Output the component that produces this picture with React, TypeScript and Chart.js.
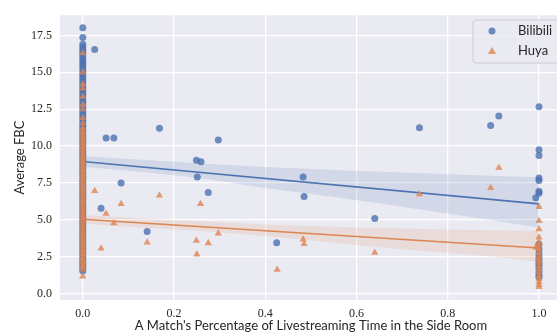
import React, { useEffect, useRef } from "react";
import { Chart, registerables } from "chart.js";
Chart.register(...registerables);

// ---- data ----
const xTickValues = [0, 0.2, 0.4, 0.6, 0.8, 1.0];
const yTickValues = [0, 2.5, 5, 7.5, 10, 12.5, 15, 17.5];

const seriesNames = ["Bilibili", "Huya"];

// Bilibili points at x = 0
const biliZeroY = [
  1.52, 1.68, 1.85, 2.0, 2.18, 2.35, 2.5, 2.7, 2.88, 3.05, 3.22, 3.4, 3.6, 3.78, 3.95, 4.12, 4.3, 4.5,
  4.68, 4.85, 5.02, 5.2, 5.4, 5.58, 5.75, 5.92, 6.1, 6.3, 6.48, 6.65, 6.82, 7.0, 7.2, 7.38, 7.55, 7.72,
  7.9, 8.1, 8.28, 8.45, 8.62, 8.8, 9.0, 9.18, 9.35, 9.52, 9.7, 9.9, 10.08, 10.25, 10.42, 10.6, 10.8,
  10.98, 11.15, 11.32, 11.5, 11.7, 11.88, 12.05, 12.22, 12.4, 12.6, 12.78, 12.95, 13.12, 13.3, 13.5,
  13.68, 13.85, 14.02, 14.2, 14.4, 14.58, 14.75, 14.92, 15.1, 15.3, 15.48, 15.65, 15.82, 16.0, 16.2,
  16.38, 16.55, 16.72, 16.9, 17.35, 18.02,
];
// Bilibili points between 0 and 1
const biliMidX = [0.026, 0.051, 0.068, 0.084, 0.04, 0.141, 0.168, 0.249, 0.259, 0.251, 0.275, 0.297, 0.425, 0.483, 0.485, 0.64, 0.738, 0.894, 0.912, 0.993];
const biliMidY = [16.54, 10.54, 10.54, 7.5, 5.78, 4.2, 11.2, 9.04, 8.93, 7.9, 6.85, 10.41, 3.45, 7.9, 6.58, 5.08, 11.24, 11.39, 12.04, 6.49];
// Bilibili points at x = 1
const biliOneY = [12.67, 9.74, 9.36, 7.83, 7.66, 6.94, 6.8, 3.36, 3.0, 2.69, 2.45, 2.24, 2.05, 1.9, 1.7, 1.45, 1.25, 1.11];

// Huya points at x = 0
const huyaZeroY = [
  1.16, 1.62, 1.8, 1.97, 2.15, 2.32, 2.5, 2.68, 2.85, 3.02, 3.2, 3.38, 3.55, 3.72, 3.9, 4.08, 4.25,
  4.42, 4.6, 4.78, 4.95, 5.12, 5.3, 5.48, 5.65, 5.82, 6.0, 6.18, 6.35, 6.52, 6.7, 6.88, 7.05, 7.22,
  7.4, 7.58, 7.75, 7.92, 8.1, 8.28, 8.45, 8.62, 8.8, 8.98, 9.15, 9.32, 9.5, 9.68, 9.85, 10.02, 10.2,
  10.38, 10.55, 10.72, 10.9, 11.05, 11.25, 11.55, 11.9, 12.5, 12.8, 13.35, 13.9, 14.2, 15.0, 16.3,
];
const huyaMidX = [0.026, 0.051, 0.068, 0.04, 0.084, 0.141, 0.168, 0.249, 0.25, 0.258, 0.275, 0.297, 0.426, 0.483, 0.485, 0.64, 0.738, 0.894, 0.912, 0.993];
const huyaMidY = [6.96, 5.41, 4.77, 3.06, 6.08, 3.47, 6.65, 3.58, 2.66, 6.08, 3.42, 4.07, 1.61, 3.67, 3.36, 2.77, 6.74, 7.16, 8.53, 3.13];
const huyaOneY = [5.88, 4.92, 4.36, 3.8, 3.47, 3.3, 3.0, 2.75, 2.5, 2.3, 2.1, 1.85, 1.65, 1.45, 1.2, 1.0, 0.8, 0.6, 0.44];

// regression lines
const regX = [0, 1];
const biliFit = [8.95, 6.08];
const huyaFit = [5.04, 3.09];

// confidence bands
const bandX = [0, 0.1, 0.25, 0.4, 0.55, 0.7, 0.85, 1.0];
const biliUpper = [9.33, 9.12, 8.85, 8.57, 8.38, 8.2, 8.03, 7.88];
const biliLower = [8.6, 8.33, 7.85, 7.15, 6.55, 5.88, 5.18, 4.47];
const huyaUpper = [5.33, 5.16, 4.9, 4.68, 4.52, 4.4, 4.3, 4.25];
const huyaLower = [4.74, 4.52, 4.25, 3.9, 3.45, 3.0, 2.62, 2.17];

// ---- styling ----
const BLUE = "#4C72B0";
const ORANGE = "#DD8452";
const BLUE_PT = "rgba(76,114,176,0.8)";
const ORANGE_PT = "rgba(221,132,82,0.8)";
const BLUE_BAND = "rgba(76,114,176,0.15)";
const ORANGE_BAND = "rgba(221,132,82,0.15)";
const TEXT = "#262626";
const SANS = "Lato";
const SERIF = "'Liberation Serif'";

function pts(xs: number[], ys: number[]) {
  return xs.map((x, i) => ({ x, y: ys[i] }));
}
function constX(x: number, ys: number[]) {
  return ys.map((y) => ({ x, y }));
}

const bgPlugin = {
  id: "bg",
  beforeDraw(chart: any) {
    const { ctx, chartArea } = chart;
    ctx.save();
    ctx.fillStyle = "#EAEAF2";
    ctx.fillRect(chartArea.left, chartArea.top, chartArea.right - chartArea.left, chartArea.bottom - chartArea.top);
    ctx.restore();
  },
};

const legendPlugin = {
  id: "customLegend",
  afterDraw(chart: any) {
    const { ctx } = chart;
    ctx.save();
    const x = 473, y = 20, w = 88, h = 43, r = 3;
    ctx.beginPath();
    ctx.moveTo(x + r, y);
    ctx.lineTo(x + w - r, y);
    ctx.arcTo(x + w, y, x + w, y + r, r);
    ctx.lineTo(x + w, y + h - r);
    ctx.arcTo(x + w, y + h, x + w - r, y + h, r);
    ctx.lineTo(x + r, y + h);
    ctx.arcTo(x, y + h, x, y + h - r, r);
    ctx.lineTo(x, y + r);
    ctx.arcTo(x, y, x + r, y, r);
    ctx.closePath();
    ctx.fillStyle = "rgba(234,234,242,0.8)";
    ctx.fill();
    ctx.strokeStyle = "#cccccc";
    ctx.lineWidth = 1;
    ctx.stroke();

    // markers
    ctx.fillStyle = BLUE_PT;
    ctx.beginPath();
    ctx.arc(492, 31, 3.5, 0, Math.PI * 2);
    ctx.fill();
    ctx.fillStyle = ORANGE_PT;
    ctx.beginPath();
    const s = 4;
    ctx.moveTo(492, 51 - s);
    ctx.lineTo(492 + s, 51 + s * 0.75);
    ctx.lineTo(492 - s, 51 + s * 0.75);
    ctx.closePath();
    ctx.fill();

    ctx.fillStyle = TEXT;
    ctx.font = `13px ${SANS}`;
    ctx.textAlign = "left";
    ctx.textBaseline = "middle";
    ctx.fillText(seriesNames[0], 518, 31);
    ctx.fillText(seriesNames[1], 518, 51);
    ctx.restore();
  },
};

export default function App() {
  const ref = useRef<HTMLCanvasElement>(null);
  useEffect(() => {
    document.body.style.margin = "0";
    const canvas = ref.current!;
    const chart = new Chart(canvas, {
      type: "scatter",
      data: {
        datasets: [
          {
            type: "scatter",
            label: seriesNames[0],
            data: [...constX(0, biliZeroY), ...pts(biliMidX, biliMidY), ...constX(1, biliOneY)],
            backgroundColor: BLUE_PT,
            borderWidth: 0,
            pointRadius: 3.5,
            pointStyle: "circle",
            order: 5,
          },
          {
            type: "line",
            label: "bili upper",
            data: pts(bandX, biliUpper),
            borderWidth: 0,
            pointRadius: 0,
            cubicInterpolationMode: "monotone",
            fill: false,
            order: 4,
          },
          {
            type: "line",
            label: "bili lower",
            data: pts(bandX, biliLower),
            borderWidth: 0,
            pointRadius: 0,
            cubicInterpolationMode: "monotone",
            backgroundColor: BLUE_BAND,
            fill: "-1",
            order: 4,
          },
          {
            type: "line",
            label: "bili fit",
            data: pts(regX, biliFit),
            borderColor: BLUE,
            borderWidth: 1.6,
            pointRadius: 0,
            fill: false,
            order: 3,
          },
          {
            type: "scatter",
            label: seriesNames[1],
            data: [...constX(0, huyaZeroY), ...pts(huyaMidX, huyaMidY), ...constX(1, huyaOneY)],
            backgroundColor: ORANGE_PT,
            borderWidth: 0,
            pointRadius: 4.2,
            pointStyle: "triangle",
            order: 2,
          },
          {
            type: "line",
            label: "huya upper",
            data: pts(bandX, huyaUpper),
            borderWidth: 0,
            pointRadius: 0,
            cubicInterpolationMode: "monotone",
            fill: false,
            order: 1,
          },
          {
            type: "line",
            label: "huya lower",
            data: pts(bandX, huyaLower),
            borderWidth: 0,
            pointRadius: 0,
            cubicInterpolationMode: "monotone",
            backgroundColor: ORANGE_BAND,
            fill: "-1",
            order: 1,
          },
          {
            type: "line",
            label: "huya fit",
            data: pts(regX, huyaFit),
            borderColor: ORANGE,
            borderWidth: 1.6,
            pointRadius: 0,
            fill: false,
            order: 0,
          },
        ] as any,
      },
      options: {
        responsive: false,
        animation: false,
        devicePixelRatio: 1,
        layout: { padding: { top: 13, right: 1, left: 0, bottom: 0 } },
        plugins: { legend: { display: false }, tooltip: { enabled: false } },
        scales: {
          x: {
            type: "linear",
            min: -0.05,
            max: 1.05,
            afterBuildTicks: (scale: any) => {
              scale.ticks = xTickValues.map((v) => ({ value: v }));
            },
            afterFit: (scale: any) => {
              scale.height = 45;
            },
            ticks: {
              callback: (v: any) => Number(v).toFixed(1),
              font: { family: SERIF, size: 12 },
              color: TEXT,
              padding: 7,
              maxRotation: 0,
            },
            grid: { color: "#ffffff", lineWidth: 1.3, drawTicks: false },
            border: { display: false },
            title: {
              display: true,
              text: "A Match's Percentage of Livestreaming Time in the Side Room",
              font: { family: SANS, size: 13 },
              color: TEXT,
              padding: { top: 0, bottom: 11 },
            },
          },
          y: {
            type: "linear",
            min: -0.44,
            max: 18.87,
            afterBuildTicks: (scale: any) => {
              scale.ticks = yTickValues.map((v) => ({ value: v }));
            },
            afterFit: (scale: any) => {
              scale.width = 60;
            },
            ticks: {
              callback: (v: any) => Number(v).toFixed(1),
              font: { family: SERIF, size: 12 },
              color: TEXT,
              padding: 8,
            },
            grid: { color: "#ffffff", lineWidth: 1.3, drawTicks: false },
            border: { display: false },
            title: {
              display: true,
              text: "Average FBC",
              font: { family: SANS, size: 13 },
              color: TEXT,
              padding: { top: 12, bottom: 0 },
            },
          },
        },
      },
      plugins: [bgPlugin, legendPlugin],
    } as any);
    return () => chart.destroy();
  }, []);
  return (
    <div style={{ width: 557, height: 333, overflow: "hidden", position: "relative" }}>
      <canvas ref={ref} width={566} height={345} style={{ display: "block", width: 566, height: 345 }} />
    </div>
  );
}
